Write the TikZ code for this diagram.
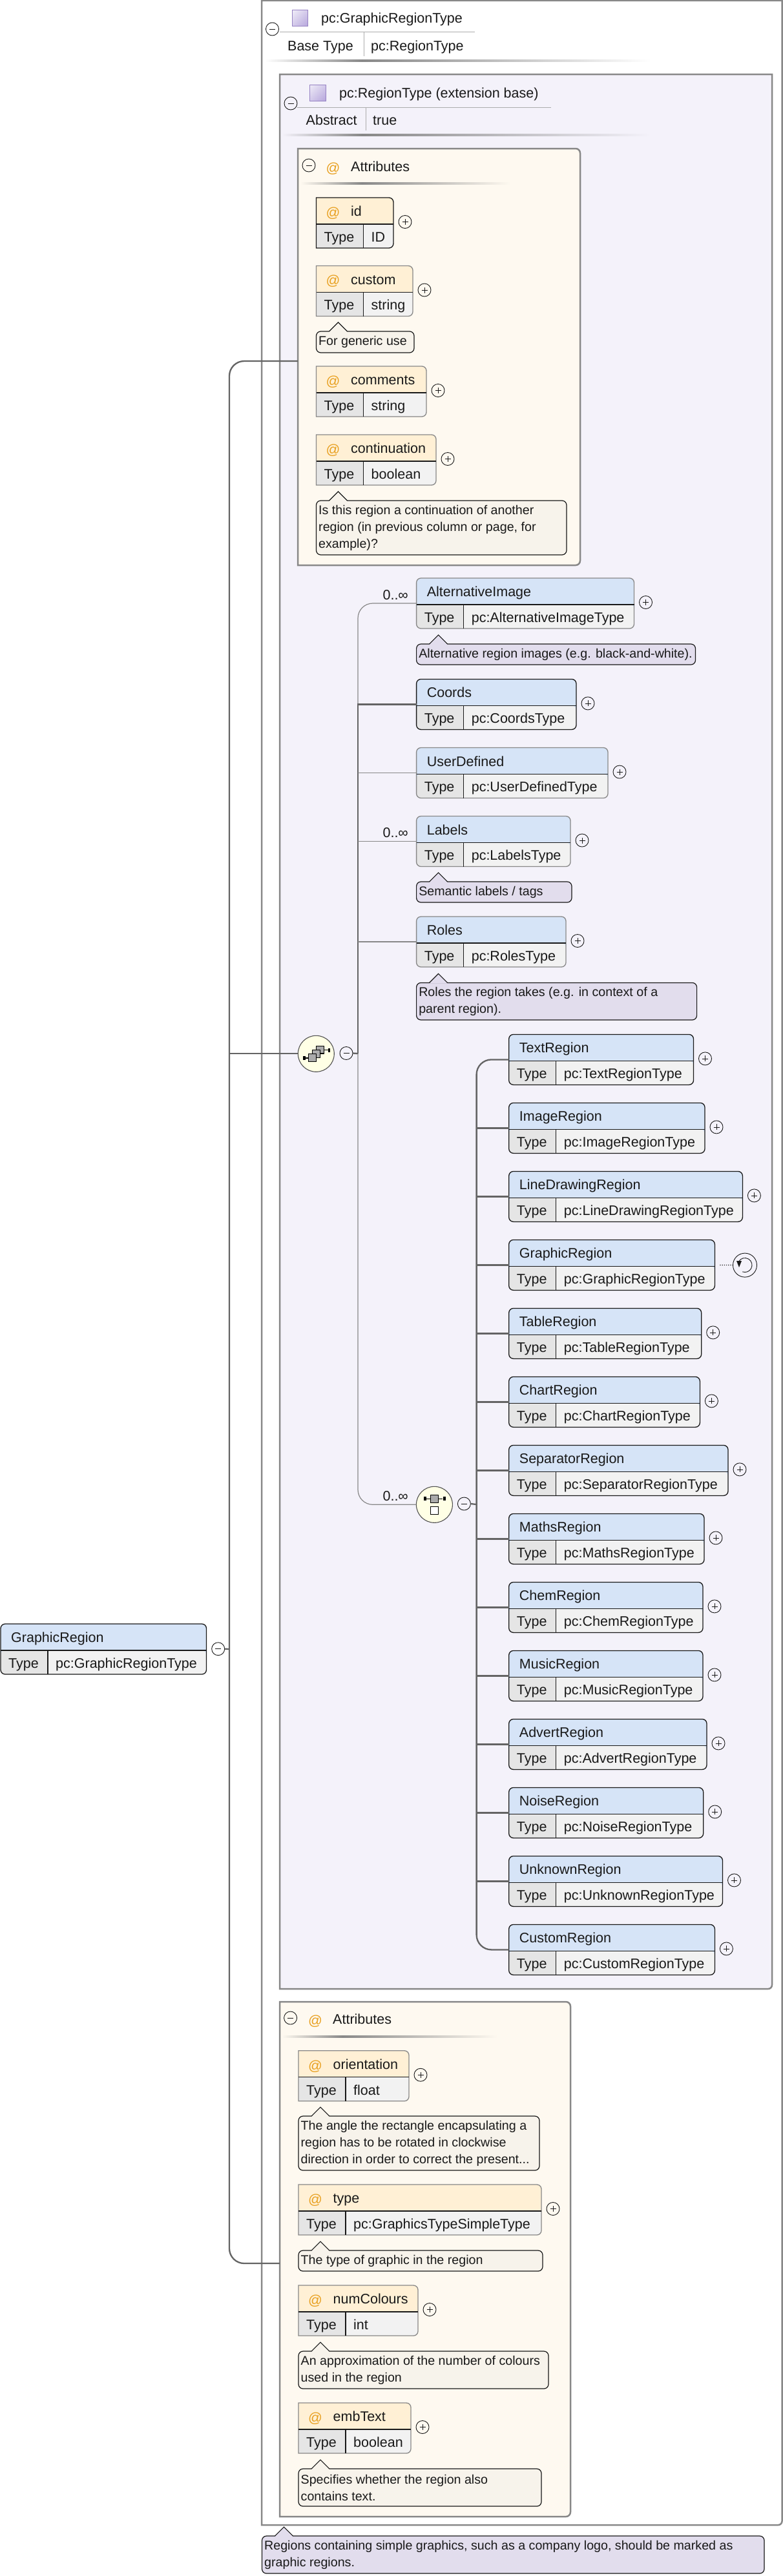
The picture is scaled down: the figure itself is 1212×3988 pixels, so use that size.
\documentclass[tikz,border=0pt]{standalone}
\usepackage{fontspec}
\setmainfont{Liberation Sans}
\usepackage{xcolor}
\usetikzlibrary{shadings}
\definecolor{blk}{RGB}{25,25,25}
\definecolor{gry}{RGB}{136,136,136}
\definecolor{linkgray}{RGB}{100,100,100}
\definecolor{headblue}{RGB}{214,228,247}
\definecolor{typecell}{RGB}{229,229,229}
\definecolor{valcell}{RGB}{242,242,242}
\definecolor{regionbg}{RGB}{244,242,250}
\definecolor{attrbg}{RGB}{254,249,240}
\definecolor{attrhead}{RGB}{255,240,213}
\definecolor{atsign}{RGB}{232,160,32}
\definecolor{notebeige}{RGB}{247,243,235}
\definecolor{notepurple}{RGB}{226,221,237}
\definecolor{ovalfill}{RGB}{255,255,229}
\definecolor{iconfill}{RGB}{171,171,171}
\definecolor{markedge}{RGB}{150,130,195}
\definecolor{markdark}{RGB}{182,166,220}
\definecolor{marklight}{RGB}{240,237,248}
\def\dgfont{\fontsize{21.5}{26}\selectfont}
\def\ntfont{\fontsize{19.65}{26}\selectfont}
\tikzset{
  txt/.style={anchor=base west, inner sep=0pt, font=\dgfont, text=blk},
  attag/.style={anchor=center, inner sep=0pt, font=\dgfont, text=atsign},
  frame/.style={draw=gry, line width=2.5pt},
  rows/.style={path picture={
      \fill[valcell] ([yshift=-41pt]path picture bounding box.north west) rectangle (path picture bounding box.south east);
      \fill[typecell] ([yshift=-41pt]path picture bounding box.north west) rectangle ([xshift=73pt]path picture bounding box.south west);
    }},
  eltbody/.style={rows, anchor=north west, inner sep=0pt, outer sep=0pt, fill=headblue,
    line width=1.3pt, rounded corners=7pt, minimum height=78pt},
  slot/.style={anchor=north west, inner sep=0pt, outer sep=0pt},
  rowline/.style={draw=blk, line width=1.1pt},
  notebody/.style={anchor=north west, inner sep=0pt, outer sep=0pt, draw=blk,
    line width=1.2pt, rounded corners=7pt},
  notchline/.style={draw=blk, line width=1.1pt},
  notetxt/.style={anchor=west, align=left, inner sep=0pt, font=\ntfont, text=blk},
  occ/.style={anchor=base east, inner sep=0pt, font=\dgfont, text=blk},
  knob/.style={circle, draw=blk, line width=0.9pt, minimum size=20pt, inner sep=0pt, outer sep=0pt},
  plus/.style={knob, path picture={
      \draw[line width=0.8pt] ([xshift=-4.5pt]path picture bounding box.center) -- ([xshift=4.5pt]path picture bounding box.center);
      \draw[line width=0.8pt] ([yshift=-4.5pt]path picture bounding box.center) -- ([yshift=4.5pt]path picture bounding box.center);
    }},
  minus/.style={knob, path picture={
      \draw[line width=0.8pt] ([xshift=-4.5pt]path picture bounding box.center) -- ([xshift=4.5pt]path picture bounding box.center);
    }},
  modeloval/.style={circle, draw=blk!75, line width=1.1pt, fill=ovalfill, minimum size=56pt, inner sep=0pt, outer sep=0pt},
  link/.style={draw=linkgray, line width=2.3pt},
  thinlink/.style={draw=gry, line width=1.2pt},
  icon/.style={draw=black, line width=1.1pt, fill=iconfill},
  iconwhite/.style={draw=black, line width=1.1pt, fill=white},
  typemark/.style={shade, draw=markedge, line width=1pt, upper left=marklight, lower right=markdark, upper right=marklight!50!markdark, lower left=marklight!50!markdark}
}
\begin{document}
\begin{tikzpicture}[x=1pt,y=-1pt]
    \useasboundingbox (0,0) rectangle (1212,3988);
    \fill[white] (0,0) rectangle (1212,3988);
    % element box: name, left, top, right, label, type, border
    \def\elm#1#2#3#4#5#6#7{
      \node[eltbody, draw=#7, minimum width={(#4-#2)*1pt}] (#1) at (#2,#3) {};
      \draw[rowline] ([yshift=-41pt]#1.north west) -- ([yshift=-41pt]#1.north east);
      \draw[rowline] ([xshift=73pt,yshift=-41pt]#1.north west) -- ([xshift=73pt]#1.south west);
      \node[txt] (#1n) at (#2+16,#3+28.5) {#5};
      \node[txt] (#1k) at (#2+12,#3+68.3) {Type};
      \node[txt] (#1v) at (#2+85,#3+68.3) {#6};
    }
    % attribute box, only the right corners are rounded
    \def\atr#1#2#3#4#5#6#7{
      \node[slot, minimum width={(#4-#2)*1pt}, minimum height=78pt] (#1) at (#2,#3) {};
      \draw[rows, fill=attrhead, draw=#7, line width=1.3pt] (#1.north west) [rounded corners=7pt] -- (#1.north east) -- (#1.south east) -- ([xshift=-30pt]#1.south east) [sharp corners] -- (#1.south west) -- cycle;
      \draw[rowline] ([yshift=-41pt]#1.north west) -- ([yshift=-41pt]#1.north east);
      \draw[rowline] ([xshift=73pt,yshift=-41pt]#1.north west) -- ([xshift=73pt]#1.south west);
      \node[attag] (#1a) at (#2+26,#3+24) {@};
      \node[txt] (#1n) at (#2+53.5,#3+28.5) {#5};
      \node[txt] (#1k) at (#2+12,#3+68.3) {Type};
      \node[txt] (#1v) at (#2+85,#3+68.3) {#6};
      \node[plus] (#1p) at (#4+18,#3+37.5) {};
    }
    % note with its notch: name, left, top, right, bottom, fill, text
    \def\nte#1#2#3#4#5#6#7{
      \node[notebody, fill=#6, minimum width={(#4-#2)*1pt}, minimum height={(#5-#3)*1pt}] (#1) at (#2,#3) {};
      \fill[#6] (#2+20,#3+1) -- (#2+34,#3-14) -- (#2+48,#3+1) -- cycle;
      \draw[notchline] (#2+20,#3) -- (#2+34,#3-14) -- (#2+48,#3);
      \node[notetxt] (#1t) at (#2+3.5,{(#3+#5)/2}) {#7};
    }
    % fading rule under a header
    \def\fade#1#2#3#4#5{
      \shade[left color=#5, right color=gry] (#1,#4-1.5) rectangle (#2,#4+1.5);
      \shade[left color=gry, right color=#5] (#2,#4-1.5) rectangle (#3,#4+1.5);
    }

    % outer type box
    \draw[frame, fill=white] (405,1) -- (1210.5,1) -- (1210.5,3800) [rounded corners=6pt] -- (1210.5,3909) -- (1100,3909) [sharp corners] -- (405,3909) -- cycle;
    \draw[typemark] (452,16) rectangle (476,41);
    \node[txt] (typeName) at (497,36) {pc:GraphicRegionType};
    \node[minus] (typeMinus) at (421.5,45) {};
    \draw[draw=gry!70, line width=1pt] (433,50) -- (735,50);
    \draw[draw=gry!70, line width=1pt] (563,50) -- (563,87);
    \node[txt] (baseKey) at (445,78) {Base Type};
    \node[txt] (baseVal) at (574,78) {pc:RegionType};
    \fade{410}{560}{1007}{94}{white}

    % extension base
    \draw[frame, fill=regionbg] (433,115) -- (1195,115) -- (1195,3000) [rounded corners=6pt] -- (1195,3079) -- (1100,3079) [sharp corners] -- (433,3079) -- cycle;
    \draw[typemark] (479,131) rectangle (504,156);
    \node[txt] (baseName) at (525,151) {pc:RegionType (extension base)};
    \node[minus] (baseMinus) at (450,160) {};
    \draw[draw=gry!70, line width=1pt] (460,166) -- (853,166);
    \draw[draw=gry!70, line width=1pt] (566,166) -- (566,202);
    \node[txt] (absKey) at (473.5,193) {Abstract};
    \node[txt] (absVal) at (577,193) {true};
    \fade{436}{560}{1007}{208.5}{regionbg}

    % attributes of the base
    \node[slot, minimum width=437pt, minimum height=645pt] (attrA) at (461,230) {};
    \draw[frame, fill=attrbg] (attrA.north west) [rounded corners=7pt] -- (attrA.north east) -- (attrA.south east) -- ([xshift=-30pt]attrA.south east) [sharp corners] -- (attrA.south west) -- cycle;
    \node[minus] (attrAMinus) at (478,256) {};
    \node[attag] (attrAAt) at (515.5,261) {@};
    \node[txt] (attrATitle) at (543,265) {Attributes};
    \fade{465}{560}{790}{284}{attrbg}
    \atr{attId}{489.5}{306}{609}{id}{ID}{blk}
    \atr{attCustom}{489.5}{411.5}{639}{custom}{string}{gry}
    \nte{noteCustom}{489.5}{513}{641}{546}{notebeige}{For generic use}
    \atr{attComments}{489.5}{567}{660}{comments}{string}{gry}
    \atr{attCont}{489.5}{673}{675}{continuation}{boolean}{gry}
    \nte{noteCont}{489.5}{775}{877}{859}{notebeige}{Is this region a continuation of another\\region (in previous column or page, for\\example)?}

    % sequence of the base
    \elm{AlternativeImage}{644.6}{895}{981.5}{AlternativeImage}{pc:AlternativeImageType}{gry}
    \nte{noteAlt}{644.6}{997}{1076.5}{1029}{notepurple}{Alternative region images (e.g. black-and-white).}
    \elm{Coords}{644.6}{1051.4}{892}{Coords}{pc:CoordsType}{blk}
    \elm{UserDefined}{644.6}{1157.5}{941}{UserDefined}{pc:UserDefinedType}{gry}
    \elm{Labels}{644.6}{1263.5}{883}{Labels}{pc:LabelsType}{gry}
    \nte{noteLabels}{644.6}{1365}{885}{1397}{notepurple}{Semantic labels / tags}
    \elm{Roles}{644.6}{1419}{876}{Roles}{pc:RolesType}{gry}
    \nte{noteRoles}{644.6}{1521.4}{1078.6}{1579}{notepurple}{Roles the region takes (e.g. in context of a\\parent region).}
    \foreach \nm/\xr/\yt in {AlternativeImage/981.5/895, Coords/892/1051.4, UserDefined/941/1157.5,
        Labels/883/1263.5, Roles/876/1419}{
      \node[plus] (\nm p) at (\xr+18,\yt+37.5) {};
    }

    \node[modeloval] (seqOval) at (489.3,1631.3) {};
    \node[minus] (seqMinus) at (536,1630.5) {};
    \coordinate (seqTrunk) at (554,1631);
    \draw[icon] (489.3,1619.3) rectangle (501.7,1631);
    \draw[icon] (483.3,1625.3) rectangle (495.7,1637.3);
    \draw[icon] (477.3,1631.3) rectangle (489.7,1643.3);
    \draw[line width=1.1pt] (501.7,1625.7) -- (507.5,1625.7);
    \fill[black] (507.5,1622.7) rectangle (511,1628.7);
    \draw[line width=1.1pt] (477.3,1638) -- (473,1638);
    \fill[black] (469,1635) rectangle (473,1641);

    \node[modeloval] (choiceOval) at (672.4,2329.3) {};
    \node[minus] (choiceMinus) at (718.4,2328) {};
    \coordinate (choiceTrunk) at (737.6,2329);
    \draw[line width=1.1pt] (660,2320.3) -- (685,2320.3);
    \fill[black] (656,2317.3) rectangle (660,2323.3);
    \fill[black] (685.7,2317.3) rectangle (690,2323.3);
    \draw[icon] (666.3,2314.3) rectangle (678.7,2326.3);
    \draw[iconwhite] (666.3,2332.3) rectangle (678.7,2344.3);

    % choice of the regions
    \foreach \idx/\nm/\xr in {0/TextRegion/1073.5, 1/ImageRegion/1091, 2/LineDrawingRegion/1149.4, 3/GraphicRegion/1106.4,
        4/TableRegion/1085.7, 5/ChartRegion/1083.4, 6/SeparatorRegion/1127, 7/MathsRegion/1090, 8/ChemRegion/1088,
        9/MusicRegion/1088, 10/AdvertRegion/1094, 11/NoiseRegion/1088.7, 12/UnknownRegion/1118.5, 13/CustomRegion/1106.4}{
      \pgfmathsetmacro\yt{1601.4+106*\idx}
      \elm{\nm}{787.7}{\yt}{\xr}{\nm}{pc:\nm Type}{blk}
      \ifnum\idx=3 \else \node[plus] (\nm p) at (\xr+18,\yt+37.5) {}; \fi
      \ifnum\idx>0 \ifnum\idx<13 \draw[link] (\nm.west) -- (\nm.west -| choiceTrunk); \fi\fi
    }
    \draw[link, rounded corners=23pt] (TextRegion.west) -- (TextRegion.west -| choiceTrunk) -- (CustomRegion.west -| choiceTrunk) -- (CustomRegion.west);
    \draw[link] (choiceMinus.east) -- (choiceTrunk);

    \node[circle, draw=blk, line width=0.9pt, minimum size=37pt, inner sep=0pt, outer sep=0pt] (recur) at (1153,1958.6) {};
    \draw[blk, line width=0.9pt] (1143.5,1953) arc[start angle=150, end angle=-110, radius=11pt];
    \fill[blk] (1140,1952) -- (1148,1952) -- (1144,1962) -- cycle;
    \draw[blk, dotted, line width=1.2pt] ([xshift=8pt]GraphicRegion.east) -- (recur.west);

    \draw[thinlink, rounded corners=23pt] (AlternativeImage.west) -- (AlternativeImage.west -| seqTrunk) -- (choiceOval.west -| seqTrunk) -- (choiceOval.west);
    \draw[link] (Coords.west) -- (Coords.west -| seqTrunk) -- (seqTrunk);
    \foreach \nm in {UserDefined, Labels, Roles}{
      \draw[thinlink] (\nm.west) -- (\nm.west -| seqTrunk);
    }
    \draw[link] (seqMinus.east) -- (seqTrunk);
    \node[occ] (occAlt) at ([xshift=-12.6pt,yshift=6pt]AlternativeImage.west) {0..∞};
    \node[occ] (occLabels) at ([xshift=-12.6pt,yshift=6pt]Labels.west) {0..∞};
    \node[occ] (occChoice) at (632,2323) {0..∞};

    % attributes of the type
    \node[slot, minimum width=450pt, minimum height=797pt] (attrB) at (433,3099) {};
    \draw[frame, fill=attrbg] (attrB.north west) [rounded corners=7pt] -- (attrB.north east) -- (attrB.south east) -- ([xshift=-30pt]attrB.south east) [sharp corners] -- (attrB.south west) -- cycle;
    \node[minus] (attrBMinus) at (449.6,3124) {};
    \node[attag] (attrBAt) at (488,3129) {@};
    \node[txt] (attrBTitle) at (515,3133) {Attributes};
    \fade{436}{530}{770}{3152.7}{attrbg}
    \atr{attOrient}{462}{3174.7}{633}{orientation}{float}{gry}
    \nte{noteOrient}{462}{3276}{835}{3360}{notebeige}{The angle the rectangle encapsulating a\\region has to be rotated in clockwise\\direction in order to correct the present...}
    \atr{attType}{462}{3382}{838}{type}{pc:GraphicsTypeSimpleType}{gry}
    \nte{noteType}{462}{3484}{840}{3516}{notebeige}{The type of graphic in the region}
    \atr{attColours}{462}{3538}{647}{numColours}{int}{gry}
    \nte{noteColours}{462}{3640}{849}{3698}{notebeige}{An approximation of the number of colours\\used in the region}
    \atr{attEmb}{462}{3720}{636}{embText}{boolean}{gry}
    \nte{noteEmb}{462}{3822}{838}{3880}{notebeige}{Specifies whether the region also\\contains text.}

    \nte{noteRegion}{405.5}{3926}{1183}{3984}{notepurple}{Regions containing simple graphics, such as a company logo, should be marked as\\graphic regions.}

    % root element and its three branches
    \elm{rootElem}{1}{2514}{319.5}{GraphicRegion}{pc:GraphicRegionType}{blk}
    \node[minus] (rootMinus) at (337.7,2552.7) {};
    \coordinate (rootTrunk) at (355,2553);
    \draw[link] (rootMinus.east) -- (rootTrunk);
    \coordinate (attrAIn) at ([yshift=-6.5pt]attrA.west);
    \coordinate (attrBIn) at ([yshift=-6.5pt]attrB.west);
    \draw[link, rounded corners=23pt] (attrAIn) -- (attrAIn -| rootTrunk) -- (attrBIn -| rootTrunk) -- (attrBIn);
    \draw[link] (seqOval.west -| rootTrunk) -- (seqOval.west);
\end{tikzpicture}
\end{document}
